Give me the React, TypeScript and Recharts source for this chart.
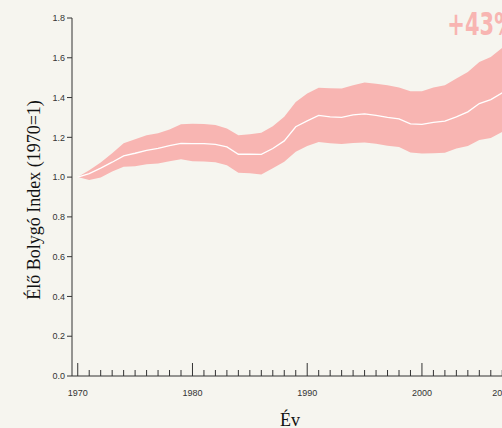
import React from 'react';
import { ComposedChart, Area, Line, XAxis, YAxis, ReferenceDot } from 'recharts';

const years = [1970,1971,1972,1973,1974,1975,1976,1977,1978,1979,1980,1981,1982,1983,1984,1985,1986,1987,1988,1989,1990,1991,1992,1993,1994,1995,1996,1997,1998,1999,2000,2001,2002,2003,2004,2005,2006,2007];
const upper = [1.0,1.035,1.073,1.12,1.17,1.19,1.21,1.22,1.24,1.266,1.268,1.267,1.262,1.245,1.21,1.216,1.223,1.256,1.303,1.378,1.42,1.449,1.447,1.446,1.462,1.476,1.47,1.462,1.45,1.432,1.432,1.45,1.462,1.496,1.529,1.579,1.604,1.65];
const mean = [1.0,1.018,1.045,1.075,1.107,1.12,1.135,1.145,1.158,1.17,1.168,1.168,1.165,1.152,1.115,1.116,1.114,1.144,1.182,1.253,1.283,1.31,1.303,1.3,1.313,1.318,1.31,1.3,1.293,1.268,1.265,1.275,1.281,1.303,1.328,1.37,1.39,1.424];
const lower = [1.0,0.985,0.998,1.028,1.052,1.055,1.065,1.069,1.08,1.09,1.08,1.078,1.075,1.06,1.022,1.02,1.013,1.044,1.077,1.127,1.157,1.177,1.17,1.166,1.172,1.174,1.168,1.158,1.152,1.124,1.119,1.12,1.122,1.144,1.157,1.186,1.197,1.228];
const yTicks = [0, 0.2, 0.4, 0.6, 0.8, 1.0, 1.2, 1.4, 1.6, 1.8];
const labeledYears = [1970, 1980, 1990, 2000, 2007];
const majorYears = [1970, 1980, 1990, 2000];
const changeLabel = '+43%';
const yTitle = 'Élő Bolygó Index (1970=1)';
const xTitle = 'Év';

const data = years.map((y, i) => ({ year: y, band: [lower[i], upper[i]], mean: mean[i] }));

const BG = '#f6f5ef';
const PINK = '#f8b5b2';
const AXIS = '#333333';

const XTick = (props: any) => {
  const { x, y, payload } = props;
  const v = payload.value;
  const major = majorYears.includes(v);
  const len = major ? 13 : 6;
  return (
    <g>
      <line x1={x} x2={x} y1={y} y2={y - len} stroke={AXIS} strokeWidth={1} />
      {labeledYears.includes(v) && (
        <text x={x} y={y + 20} textAnchor="middle" fontSize={9} fill={AXIS} fontFamily="'Liberation Sans', Arial, sans-serif">{v}</text>
      )}
    </g>
  );
};

export default function App() {
  const W = 520;
  const H = 420;
  return (
    <div style={{ position: 'fixed', left: 8, top: 8, width: 494, height: 420, overflow: 'hidden', background: BG }}>
      <div style={{ position: 'fixed', left: 0, top: 0, width: 502, height: 428, background: BG, zIndex: -1 }} />
      <ComposedChart width={W} height={H} data={data} margin={{ top: 10, right: 20, bottom: 0, left: 0 }}>
        <XAxis
          dataKey="year"
          type="number"
          domain={[1969.5, 2007.5]}
          ticks={years}
          interval={0}
          tickSize={0}
          tickMargin={0}
          tick={<XTick />}
          axisLine={{ stroke: AXIS, strokeWidth: 1 }}
          height={52}
          label={{
            content: (p: any) => {
              const vb = p.viewBox;
              return (
                <text x={vb.x + vb.width / 2} y={vb.y + 50} textAnchor="middle" fontSize={18} fill="#111" fontFamily="'Liberation Serif', serif">{xTitle}</text>
              );
            },
          }}
        />
        <YAxis
          type="number"
          domain={[0, 1.8]}
          ticks={yTicks}
          interval={0}
          width={64}
          tickSize={5}
          tickMargin={2}
          tickLine={{ stroke: AXIS, strokeWidth: 1 }}
          axisLine={{ stroke: AXIS, strokeWidth: 1 }}
          tickFormatter={(v: number) => v.toFixed(1)}
          tick={{ fontSize: 9, fill: AXIS, fontFamily: "'Liberation Sans', Arial, sans-serif" }}
          label={{
            content: (p: any) => {
              const vb = p.viewBox;
              const cx = 32;
              const cy = vb.y + vb.height / 2 + 3;
              return (
                <text x={cx} y={cy} transform={`rotate(-90, ${cx}, ${cy})`} textAnchor="middle" fontSize={18} fill="#111" fontFamily="'Liberation Serif', serif">{yTitle}</text>
              );
            },
          }}
        />
        <Area dataKey="band" type="linear" stroke="none" fill={PINK} fillOpacity={1} isAnimationActive={false} activeDot={false} />
        <Line dataKey="mean" type="linear" stroke="#ffffff" strokeWidth={1.3} dot={false} activeDot={false} isAnimationActive={false} />
        <ReferenceDot
          x={2007}
          y={1.8}
          r={0}
          fill="none"
          stroke="none"
          label={{
            content: (p: any) => {
              const vb = p.viewBox;
              const cx = vb.x + (vb.width || 0) / 2;
              const cy = vb.y + (vb.height || 0) / 2;
              return (
                <text x={cx - 55} y={cy + 17} fontSize={32} fontWeight={700} fill={PINK} fontFamily="'Liberation Sans Narrow', 'DejaVu Sans Condensed', sans-serif" textLength={68} lengthAdjust="spacingAndGlyphs">{changeLabel}</text>
              );
            },
          }}
        />
      </ComposedChart>
    </div>
  );
}
